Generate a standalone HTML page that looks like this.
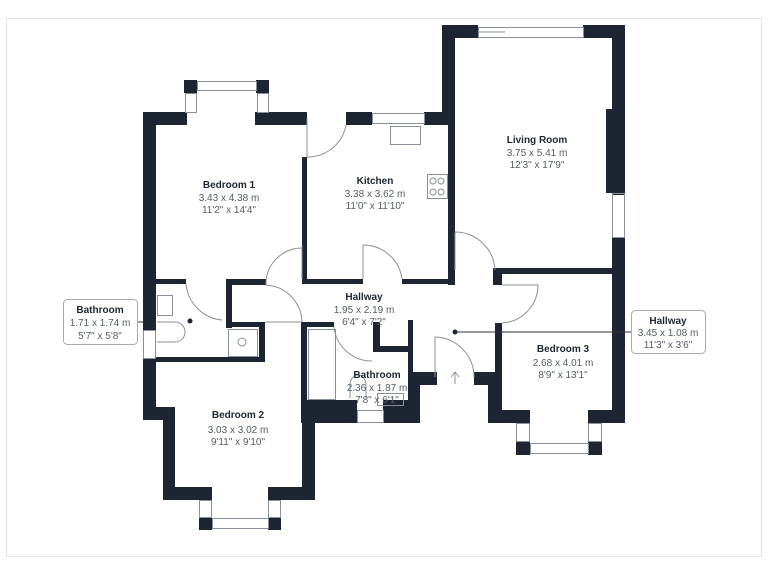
<!DOCTYPE html>
<html><head><meta charset="utf-8"><style>
html,body{margin:0;padding:0;background:#fff;width:768px;height:576px;overflow:hidden}
svg{display:block}
.t{font-family:"Liberation Sans",sans-serif;text-anchor:middle}
.b{font-weight:bold;font-size:10px;fill:#1e2532}
.s{font-size:10px;fill:#555c66}
</style></head><body>
<svg width="768" height="576" viewBox="0 0 768 576">
<rect x="6.5" y="18.5" width="755" height="538" fill="#fff" stroke="#e4e4e4"/>
<g fill="#1e2532">
<!-- Living room -->
<rect x="442" y="25" width="36" height="13"/>
<rect x="442" y="25" width="13" height="100"/>
<rect x="448" y="120" width="7" height="165"/>
<rect x="583" y="25" width="42" height="13"/>
<rect x="612" y="25" width="13" height="170"/>
<rect x="606" y="109" width="19" height="84"/>
<rect x="612" y="237" width="13" height="186"/>
<rect x="493" y="268" width="119" height="6"/>
<rect x="493" y="268" width="9" height="17"/>
<!-- Kitchen -->
<rect x="346" y="112" width="26" height="13"/>
<rect x="424" y="112" width="31" height="13"/>
<rect x="302" y="279" width="61" height="5"/>
<rect x="402" y="279" width="53" height="5"/>
<rect x="302" y="112" width="5" height="6"/>
<rect x="302" y="157" width="5" height="127"/>
<!-- Bedroom 1 -->
<rect x="143" y="112" width="44" height="13"/>
<rect x="255" y="112" width="52" height="13"/>
<rect x="184" y="80" width="13" height="13"/>
<rect x="256" y="80" width="13" height="13"/>
<rect x="143" y="112" width="13" height="218"/>
<rect x="156" y="279" width="30" height="5"/>
<rect x="226" y="279" width="40" height="6"/>
<rect x="226" y="279" width="6" height="49"/>
<!-- small bathroom -->
<rect x="226" y="322" width="39" height="5"/>
<rect x="259" y="322" width="6" height="38"/>
<rect x="156" y="357" width="109" height="5"/>
<rect x="143" y="358" width="13" height="62"/>
<rect x="143" y="407" width="32" height="13"/>
<rect x="163" y="407" width="12" height="93"/>
<!-- Bedroom 2 -->
<rect x="163" y="487" width="49" height="13"/>
<rect x="268" y="487" width="47" height="13"/>
<rect x="199" y="517" width="13" height="13"/>
<rect x="268" y="517" width="13" height="13"/>
<rect x="302" y="400" width="13" height="100"/>
<!-- hall bathroom -->
<rect x="301" y="322" width="6" height="100"/>
<rect x="301" y="322" width="33" height="5"/>
<rect x="373" y="322" width="7" height="30"/>
<rect x="373" y="346" width="40" height="6"/>
<rect x="408" y="320" width="5" height="80"/>
<rect x="408" y="372" width="29" height="13"/>
<rect x="408" y="372" width="12" height="50"/>
<rect x="301" y="400" width="56" height="23"/>
<rect x="383" y="400" width="37" height="23"/>
<!-- Bedroom 3 -->
<rect x="495" y="323" width="7" height="55"/>
<rect x="474" y="372" width="28" height="13"/>
<rect x="488" y="372" width="14" height="51"/>
<rect x="488" y="410" width="42" height="13"/>
<rect x="588" y="410" width="37" height="13"/>
<rect x="516" y="441" width="14" height="14"/>
<rect x="588" y="441" width="14" height="14"/>
</g>
<g fill="none" stroke="#8a9099" stroke-width="1">
<!-- windows -->
<rect x="478.5" y="27.5" width="105" height="10"/>
<line x1="505" y1="32" x2="478" y2="32"/>
<rect x="197.5" y="81.5" width="59" height="9"/>
<rect x="185.5" y="93.5" width="11" height="19"/>
<rect x="257.5" y="93.5" width="11" height="19"/>
<rect x="372.5" y="113.5" width="52" height="10"/>
<rect x="612.5" y="193.5" width="12" height="44"/>
<rect x="143.5" y="330.5" width="12" height="28"/>
<rect x="212.5" y="518.5" width="56" height="10"/>
<rect x="199.5" y="500.5" width="12" height="17"/>
<rect x="268.5" y="500.5" width="12" height="17"/>
<rect x="357.5" y="410.5" width="26" height="12"/>
<rect x="530.5" y="443.5" width="58" height="10"/>
<rect x="516.5" y="423.5" width="13" height="18"/>
<rect x="588.5" y="423.5" width="13" height="18"/>
<!-- fixtures -->
<rect x="390.5" y="126.5" width="30" height="18"/>
<rect x="427.5" y="174.5" width="20" height="24"/>
<circle cx="433" cy="181" r="3"/><circle cx="441" cy="181" r="3"/>
<circle cx="433" cy="192" r="3"/><circle cx="441" cy="192" r="3"/>
<rect x="157.5" y="295.5" width="15" height="20"/>
<path d="M157 322 H175 A10 10 0 0 1 175 342 H157"/>
<rect x="228.5" y="329.5" width="29" height="27"/>
<circle cx="242" cy="342" r="4"/>
<rect x="308.5" y="329.5" width="27" height="70"/>
<path d="M350 398 V385 A8 10 0 0 1 366 385 V398"/>
<rect x="377.5" y="393.5" width="26" height="12"/>
<!-- doors -->
<path d="M307 157 V118 M307 157 A39 39 0 0 0 346 125"/>
<path d="M363 245 V279 M363 245 A39 39 0 0 1 402 279"/>
<path d="M302 245 V279 M302 248 A36 36 0 0 0 266 284"/>
<path d="M186 284 A40 40 0 0 0 222 320"/>
<path d="M265 285 A38 38 0 0 1 302 322 M265 322 H302"/>
<path d="M334 327 A38 38 0 0 0 372 361"/>
<path d="M455 232 V270 M455 232 A40 40 0 0 1 495 270"/>
<path d="M502 285 H538 A38 38 0 0 1 502 323"/>
<path d="M435 337 V377 M435 337 A40 40 0 0 1 474 377"/>
<path d="M455 384 V372 M451 377 L455 372 L459 377"/>
<!-- label leaders -->
<line x1="137" y1="322" x2="143" y2="322" stroke="#333"/>
<line x1="455" y1="332" x2="631" y2="332" stroke="#333"/>
</g>
<circle cx="190" cy="321" r="2.5" fill="#1e2532"/>
<circle cx="455" cy="332" r="2.5" fill="#1e2532"/>
<rect x="63.5" y="299.5" width="74" height="45" rx="4" fill="#fff" stroke="#aaa"/>
<rect x="631.5" y="310.5" width="74" height="43" rx="4" fill="#fff" stroke="#aaa"/>
<g class="t">
<text class="b" x="100" y="313">Bathroom</text>
<text class="s" x="100" y="326">1.71 x 1.74 m</text>
<text class="s" x="100" y="339">5'7" x 5'8"</text>
<text class="b" x="668" y="324">Hallway</text>
<text class="s" x="668" y="336">3.45 x 1.08 m</text>
<text class="s" x="668" y="348">11'3" x 3'6"</text>
<text class="b" x="229" y="188">Bedroom 1</text>
<text class="s" x="229" y="201">3.43 x 4.38 m</text>
<text class="s" x="229" y="213">11'2" x 14'4"</text>
<text class="b" x="375" y="184">Kitchen</text>
<text class="s" x="375" y="197">3.38 x 3.62 m</text>
<text class="s" x="375" y="209">11'0" x 11'10"</text>
<text class="b" x="537" y="143">Living Room</text>
<text class="s" x="537" y="156">3.75 x 5.41 m</text>
<text class="s" x="537" y="168">12'3" x 17'9"</text>
<text class="b" x="364" y="300">Hallway</text>
<text class="s" x="364" y="313">1.95 x 2.19 m</text>
<text class="s" x="364" y="325">6'4" x 7'2"</text>
<text class="b" x="377" y="378">Bathroom</text>
<text class="s" x="377" y="391">2.36 x 1.87 m</text>
<text class="s" x="377" y="403">7'8" x 6'1"</text>
<text class="b" x="238" y="418">Bedroom 2</text>
<text class="s" x="238" y="433">3.03 x 3.02 m</text>
<text class="s" x="238" y="445">9'11" x 9'10"</text>
<text class="b" x="563" y="352">Bedroom 3</text>
<text class="s" x="563" y="366">2.68 x 4.01 m</text>
<text class="s" x="563" y="378">8'9" x 13'1"</text>
</g>
</svg>
</body></html>
